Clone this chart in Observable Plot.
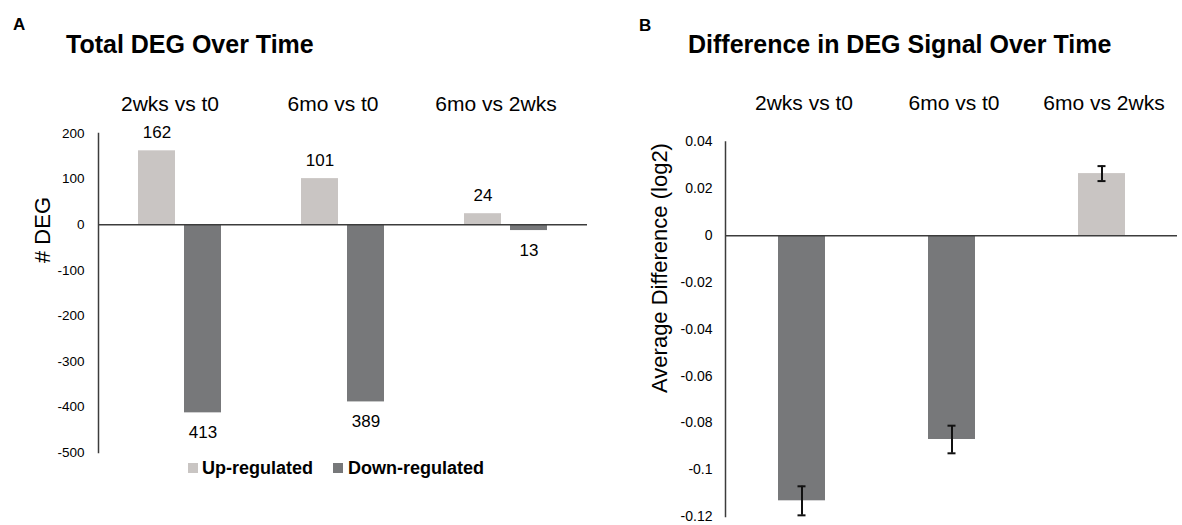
<!DOCTYPE html>
<html>
<head>
<meta charset="utf-8">
<script src="https://cdn.jsdelivr.net/npm/d3@7"></script>
<script src="https://cdn.jsdelivr.net/npm/@observablehq/plot@0.6"></script>
<style>
  body { margin: 0; background: #fff; font-family: "Liberation Sans", Arial, sans-serif; color: #000; }
  #wrap { position: relative; width: 1182px; height: 525px; overflow: hidden; background: #fff; }
  .abs { position: absolute; white-space: nowrap; line-height: 1; }
  .panel { font-weight: bold; font-size: 17px; }
  .title { font-weight: bold; font-size: 25px; }
  .ylab { transform: translate(-50%, -50%) rotate(-90deg); }
  #legend { display: flex; align-items: center; height: 18px; font-size: 18px; font-weight: bold; }
  #legend .sw { width: 10px; height: 10px; display: inline-block; }
  svg.plot { position: absolute; top: 90px; overflow: visible; }
</style>
</head>
<body>
<div id="wrap">
  <div class="abs panel" style="left:13px; top:15.6px;">A</div>
  <div class="abs title" style="left:66px; top:31.8px;">Total DEG Over Time</div>
  <div class="abs panel" style="left:639px; top:16.6px;">B</div>
  <div class="abs title" style="left:688px; top:31.8px;">Difference in DEG Signal Over Time</div>
  <div class="abs ylab" style="left:43px; top:230px; font-size:22px;"># DEG</div>
  <div class="abs ylab" style="left:660px; top:268px; font-size:22px;">Average Difference (log2)</div>
  <div class="abs" id="legend" style="left:188px; top:459px;"></div>
</div>
<script>
// ---- data ----
const categories = ["2wks vs t0", "6mo vs t0", "6mo vs 2wks"];
const seriesNames = ["Up-regulated", "Down-regulated"];
const upRegulated = [162, 101, 24];
const downRegulated = [-413, -389, -13];
const degTicks = [200, 100, 0, -100, -200, -300, -400, -500];

const avgDiff = [-0.1133, -0.0871, 0.0265];
const avgDiffErr = [0.0062, 0.0059, 0.0032];
const diffTicks = [0.04, 0.02, 0, -0.02, -0.04, -0.06, -0.08, -0.1, -0.12];

// ---- styles ----
const upColor = "#c9c5c3";
const downColor = "#77787a";
const lineColor = "#3c3c3c";
const font = "'Liberation Sans', Arial, sans-serif";

const upRows = categories.map((c, i) => ({category: c, value: upRegulated[i]}));
const downRows = categories.map((c, i) => ({category: c, value: downRegulated[i]}));

const plotA = Plot.plot({
  width: 600, height: 370,
  marginTop: 43, marginBottom: 8, marginLeft: 98, marginRight: 13,
  style: {fontFamily: font, color: "#000", background: "transparent", overflow: "visible"},
  x: {domain: categories, padding: 0},
  y: {domain: [-500, 200]},
  marks: [
    Plot.barY(upRows, {x: "category", y: "value", fill: upColor, insetLeft: 40, insetRight: 86}),
    Plot.barY(downRows, {x: "category", y: "value", fill: downColor, insetLeft: 86, insetRight: 40}),
    Plot.ruleY([0], {stroke: lineColor, strokeWidth: 1.5}),
    Plot.frame({anchor: "left", stroke: lineColor, strokeWidth: 1.5}),
    Plot.axisY(degTicks, {tickSize: 0, tickPadding: 14, tickFormat: d => String(d), fontSize: 13.5, label: null}),
    Plot.axisX({anchor: "top", tickSize: 0, tickPadding: 23, fontSize: 21, dx: -10, label: null}),
    Plot.text(upRows, {x: "category", y: "value", text: d => String(d.value), dx: -23, dy: -18, fontSize: 17}),
    Plot.text(downRows, {x: "category", y: "value", text: d => String(-d.value), dx: 23, dy: 20, fontSize: 17})
  ]
});
plotA.classList.add("plot");
plotA.style.left = "0px";
document.getElementById("wrap").appendChild(plotA);

const diffRows = categories.map((c, i) => ({
  category: c, value: avgDiff[i], err: avgDiffErr[i],
  dir: avgDiff[i] >= 0 ? seriesNames[0] : seriesNames[1]
}));

const plotB = Plot.plot({
  width: 582, height: 435,
  marginTop: 51.5, marginBottom: 9, marginLeft: 125, marginRight: 5,
  style: {fontFamily: font, color: "#000", background: "transparent", overflow: "visible"},
  x: {domain: categories, paddingInner: 0.687, paddingOuter: 0.3435},
  y: {domain: [-0.12, 0.04]},
  color: {domain: seriesNames, range: [upColor, downColor]},
  marks: [
    Plot.barY(diffRows, {x: "category", y: "value", fill: "dir"}),
    Plot.ruleY([0], {stroke: lineColor, strokeWidth: 1.5}),
    Plot.frame({anchor: "left", stroke: lineColor, strokeWidth: 1.5}),
    Plot.ruleX(diffRows, {x: "category", y1: d => d.value - d.err, y2: d => d.value + d.err, stroke: "#111", strokeWidth: 2}),
    Plot.tickY(diffRows, {x: "category", y: d => d.value - d.err, stroke: "#111", strokeWidth: 2, insetLeft: 19.5, insetRight: 19.5}),
    Plot.tickY(diffRows, {x: "category", y: d => d.value + d.err, stroke: "#111", strokeWidth: 2, insetLeft: 19.5, insetRight: 19.5}),
    Plot.axisY(diffTicks, {tickSize: 0, tickPadding: 13, tickFormat: d => String(d), fontSize: 14, label: null}),
    Plot.axisX({anchor: "top", tickSize: 0, tickPadding: 32, fontSize: 21, dx: 2, label: null})
  ]
});
plotB.classList.add("plot");
plotB.style.left = "600px";
document.getElementById("wrap").appendChild(plotB);

// legend
const legend = document.getElementById("legend");
const legendColors = [upColor, downColor];
seriesNames.forEach((name, i) => {
  const sw = document.createElement("span");
  sw.className = "sw";
  sw.style.background = legendColors[i];
  if (i > 0) sw.style.marginLeft = "20px";
  const t = document.createElement("span");
  t.textContent = name;
  t.style.marginLeft = i > 0 ? "5px" : "4px";
  legend.appendChild(sw);
  legend.appendChild(t);
});
</script>
</body>
</html>
